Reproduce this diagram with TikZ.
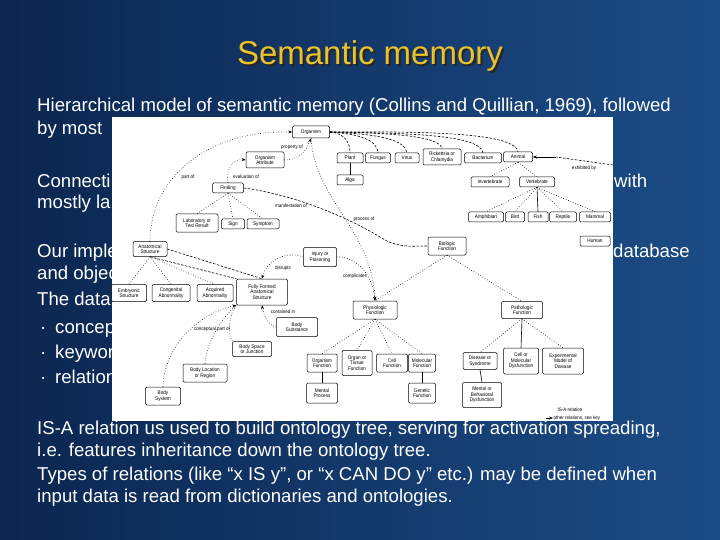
\documentclass[tikz,border=0pt]{standalone}
\usepackage{fontspec}
\setmainfont{Liberation Sans}
\newfontfamily\titlefont{Liberation Sans}
\newfontfamily\diagfont{Liberation Sans}[FakeStretch=0.9]
\usetikzlibrary{arrows.meta}
\definecolor{bgL}{HTML}{0B2650}
\definecolor{bgR}{HTML}{1C4C86}
\definecolor{ttl}{HTML}{E9C22C}
\begin{document}
\begin{tikzpicture}[x=1pt,y=-1pt,
 bx/.style={draw=black, line width=0.5pt, rounded corners=1.2pt, fill=white, font=\diagfont\fontsize{5.2}{5.6}\selectfont, align=center, inner sep=0.5pt},
 lbl/.style={font=\diagfont\fontsize{5}{5.5}\selectfont, inner sep=0.5pt},
 isa/.style={draw=black, dotted, line width=0.6pt},
 rel/.style={draw=black, dash pattern=on 2.5pt off 1.5pt, line width=0.6pt},
 sol/.style={draw=black, line width=0.6pt},
 arr/.style={-{Stealth[length=4pt,width=3pt]}},
 body/.style={text=white, font=\fontsize{18.6}{21}\selectfont, anchor=base west, inner sep=0pt},
]
\useasboundingbox (0,0) rectangle (720,540);
\fill[left color=bgL, right color=bgR] (0,0) rectangle (720,540);
% title (with drop shadow in the same node)
\node[anchor=base, font=\titlefont\fontsize{33}{37}\selectfont, inner sep=0pt] (title) at (370,65)
  {\makebox[0pt][l]{\hspace{2pt}\raisebox{-2pt}{\color{black!85}Semantic memory}}\color{ttl}Semantic memory};
% body text
\node[body] (t1) at (37,112) {Hierarchical model of semantic memory (Collins and Quillian, 1969), followed};
\node[body] (t2) at (37,135) {by most};
\node[body] (t3) at (37,188) {Connecti};
\node[body] (t3b) at (614,188) {with};
\node[body] (t4) at (37,208) {mostly la};
\node[body] (t5) at (37,257) {Our imple};
\node[body] (t5b) at (613,257) {database};
\node[body] (t6) at (37,279) {and objec};
\node[body] (t7) at (37,305) {The data};
\node[body] (b1) at (40,333) {·};
\node[body] (t8) at (55,333) {concep};
\node[body] (b2) at (40,358) {·};
\node[body] (t9) at (55,358) {keywor};
\node[body] (b3) at (40,383) {·};
\node[body] (t10) at (55,383) {relation};
\node[body] (t11) at (37,434) {IS-A relation us used to build ontology tree, serving for activation spreading,};
\node[body] (t12) at (37,456) {i.e. features inheritance down the ontology tree.};
\node[body] (t13) at (37,480) {Types of relations (like “x IS y”, or “x CAN DO y” etc.) may be defined when};
\node[body] (t14) at (37,502) {input data is read from dictionaries and ontologies.};
% embedded diagram panel
\fill[white] (112,117) rectangle (613,421);
% boxes
\node[bx, minimum width=37, minimum height=12] (org) at (311,132) {Organism};
\node[bx, minimum width=38, minimum height=16] (attr) at (265,160) {Organism\\Attribute};
\node[bx, minimum width=31, minimum height=10] (find) at (228,188) {Finding};
\node[bx, minimum width=42, minimum height=18] (lab) at (197,223) {Laboratory or\\Test Result};
\node[bx, minimum width=23, minimum height=10] (sign) at (233,224) {Sign};
\node[bx, minimum width=32, minimum height=10] (symp) at (263,224) {Symptom};
\node[bx, minimum width=26, minimum height=10] (plant) at (350,158) {Plant};
\node[bx, minimum width=25, minimum height=10] (fung) at (378,158) {Fungus};
\node[bx, minimum width=24, minimum height=10] (virus) at (407,158) {Virus};
\node[bx, minimum width=38, minimum height=16] (rick) at (442,157) {Rickettsia or\\Chlamydia};
\node[bx, minimum width=37, minimum height=10] (bact) at (483,158) {Bacterium};
\node[bx, minimum width=29, minimum height=10] (anim) at (518,157) {Animal};
\node[bx, minimum width=26, minimum height=10] (alga) at (350,180) {Alga};
\node[bx, minimum width=38, minimum height=10] (invert) at (490,182) {Invertebrate};
\node[bx, minimum width=35, minimum height=10] (vert) at (537,182) {Vertebrate};
\node[bx, minimum width=35, minimum height=10] (amph) at (486,217) {Amphibian};
\node[bx, minimum width=19, minimum height=10] (bird) at (515,217) {Bird};
\node[bx, minimum width=20, minimum height=10] (fish) at (538,217) {Fish};
\node[bx, minimum width=27, minimum height=10] (rept) at (563,217) {Reptile};
\node[bx, minimum width=31, minimum height=10] (mamm) at (595,217) {Mammal};
\node[bx, minimum width=30, minimum height=10] (human) at (595,241) {Human};
\node[bx, minimum width=38, minimum height=18] (bio) at (447,246) {Biologic\\Function};
\node[bx, minimum width=34, minimum height=15] (anat) at (150,249) {Anatomical\\Structure};
\node[bx, minimum width=35, minimum height=17] (emb) at (129,293) {Embryonic\\Structure};
\node[bx, minimum width=38, minimum height=17] (cong) at (171,293) {Congenital\\Abnormality};
\node[bx, minimum width=36, minimum height=17] (acq) at (215,293) {Acquired\\Abnormality};
\node[bx, minimum width=51, minimum height=26] (full) at (262,292) {Fully Formed\\Anatomical\\Structure};
\node[bx, minimum width=33, minimum height=19] (inj) at (320,257) {Injury or\\Poisoning};
\node[bx, minimum width=41, minimum height=19] (subst) at (297,327) {Body\\Substance};
\node[bx, minimum width=39, minimum height=15] (space) at (252,349) {Body Space\\or Junction};
\node[bx, minimum width=44, minimum height=18] (loc) at (205,373) {Body Location\\or Region};
\node[bx, minimum width=35, minimum height=18] (sys) at (163,396) {Body\\System};
\node[bx, minimum width=44, minimum height=18] (phys) at (375,310) {Physiologic\\Function};
\node[bx, minimum width=30, minimum height=18] (orgf) at (322,363) {Organism\\Function};
\node[bx, minimum width=30, minimum height=25] (tiss) at (357,363) {Organ or\\Tissue\\Function};
\node[bx, minimum width=31, minimum height=18] (cellf) at (392,363) {Cell\\Function};
\node[bx, minimum width=27, minimum height=18] (molf) at (422,363) {Molecular\\Function};
\node[bx, minimum width=31, minimum height=20] (ment) at (322,393) {Mental\\Process};
\node[bx, minimum width=27, minimum height=20] (gen) at (422,393) {Genetic\\Function};
\node[bx, minimum width=41, minimum height=17] (path) at (522,310) {Pathologic\\Function};
\node[bx, minimum width=34, minimum height=17] (dis) at (480,361) {Disease or\\Syndrome};
\node[bx, minimum width=35, minimum height=26] (cmd) at (521,361) {Cell or\\Molecular\\Dysfunction};
\node[bx, minimum width=41, minimum height=26] (exp) at (563,361) {Experimental\\Model of\\Disease};
\node[bx, minimum width=39, minimum height=25] (mbd) at (482,395) {Mental or\\Behavioral\\Dysfunction};
% relation labels
\node[lbl] (l1) at (292,147) {property of};
\node[lbl] (l2) at (188,177) {part of};
\node[lbl] (l3) at (246,177) {evaluation of};
\node[lbl] (l4) at (291,206) {manifestation of};
\node[lbl] (l5) at (364,219) {process of};
\node[lbl] (l6) at (584,168) {exhibited by};
\node[lbl] (l7) at (283,268) {disrupts};
\node[lbl] (l8) at (355,276) {complicates};
\node[lbl] (l9) at (283,312) {contained in};
\node[lbl] (l10) at (212,329) {conceptual part of};
\node[lbl, anchor=west] (leg1) at (557,410) {IS-A relation};
\node[lbl, anchor=west] (leg2) at (553,418) {other relations, see key};
\coordinate (legA) at (546,418);
\draw[sol, arr] (legA) -- (leg2.west);
% Organism children
\draw[rel] (org.east) .. controls (345,133) and (350,143) .. (plant.north);
\draw[rel] (org.east) .. controls (360,134) and (377,140) .. (fung.north);
\draw[rel] (org.east) .. controls (380,134) and (405,140) .. (virus.north);
\draw[rel] (org.east) .. controls (400,133) and (440,137) .. (rick.north);
\draw[rel] (org.east) .. controls (420,133) and (480,136) .. (bact.north);
\draw[rel] (org.east) .. controls (440,131) and (515,134) .. (anim.north);
\draw[sol] (plant.south) -- (alga.north);
\draw[isa] (anim.south) -- (invert.north);
\draw[isa] (anim.south) -- (vert.north);
\draw[isa] (vert.south) -- (amph.north);
\draw[isa] (vert.south) -- (bird.north);
\draw[sol] (vert.south) -- (fish.north);
\draw[isa] (vert.south) -- (rept.north);
\draw[isa] (vert.south) -- (mamm.north);
% exhibited by
\coordinate (exh) at (613,165);
\coordinate (exhm) at (556,157);
\draw[rel] (exh) -- (exhm);
\draw[sol, arr] (exhm) -- (anim.east);
% Organism relations
\draw[isa, arr] (attr.east) .. controls (298,160) and (306,152) .. (org.south);
\draw[isa, arr] (find.north) .. controls (226,170) and (232,158) .. (attr.west);
\draw[isa] (find.south) -- (lab.north);
\draw[isa] (find.south) -- (sign.north);
\draw[isa] (find.south) -- (symp.north);
\draw[isa, arr] (anat.north) .. controls (150,180) and (205,130) .. (org.west);
\draw[rel] (find.east) .. controls (290,194) and (345,215) .. (385,240) .. controls (400,248) and (415,246) .. (bio.west);
\draw[isa, arr] (org.south) .. controls (315,200) and (372,230) .. (phys.north);
% anatomy
\draw[isa] (anat.south) -- (emb.north);
\draw[isa] (anat.south) -- (cong.north);
\draw[isa] (anat.south) -- (acq.north);
\draw[rel] (anat.south) -- (full.north west);
\draw[rel] (anat.east) -- (full.north);
\draw[isa, arr] (inj.west) .. controls (285,250) and (266,262) .. (full.north);
\draw[isa, arr] (inj.east) .. controls (352,256) and (372,270) .. (phys.north);
\draw[isa, arr] (subst.west) .. controls (270,326) and (264,318) .. (full.south);
\draw[isa, arr] (sys.north) .. controls (165,340) and (205,312) .. (full.south west);
\draw[isa] (loc.north) .. controls (207,340) and (222,318) .. (full.south west);
\draw[isa] (space.north west) .. controls (228,335) and (228,316) .. (full.south west);
% functions
\draw[isa] (bio.south) -- (phys.north);
\draw[isa] (bio.south) -- (path.north);
\draw[isa] (phys.south) -- (orgf.north);
\draw[isa] (phys.south) -- (tiss.north);
\draw[isa] (phys.south) -- (cellf.north);
\draw[isa] (phys.south) -- (molf.north);
\draw[sol] (orgf.south) -- (ment.north);
\draw[sol] (molf.south) -- (gen.north);
\draw[isa] (path.south) -- (dis.north);
\draw[sol] (path.south) -- (cmd.north);
\draw[isa] (path.south) -- (exp.north);
\draw[sol] (dis.south) -- (mbd.north);
\end{tikzpicture}
\end{document}
